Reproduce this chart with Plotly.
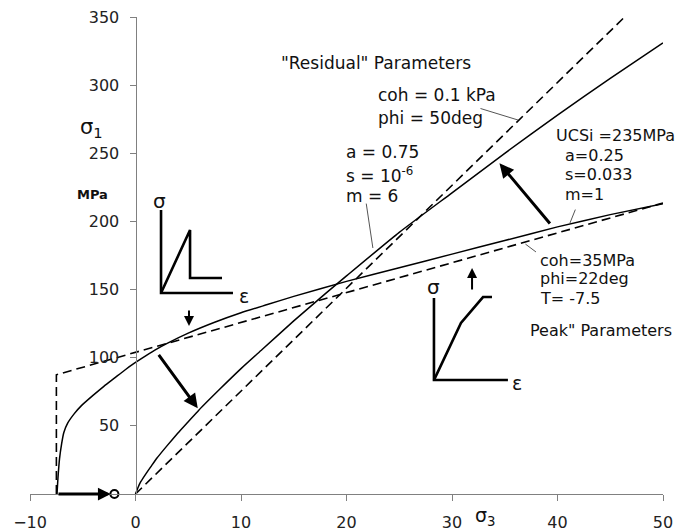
import plotly.graph_objects as go

# ---------------- data ----------------
# Peak Hoek-Brown envelope (solid)
peak_hb_s3 = [-7.44, -7.38, -7.32, -7.2, -7.0, -6.8, -6.43, -5.8, -5.17, -4.0, -3.0, -2.0, -1.0, 0,
              1, 2, 3, 5, 7.5, 10, 12.5, 15, 20, 25, 30, 35, 40, 45, 50]
peak_hb_s1 = [0, 8, 15, 26, 37, 45, 52, 59, 64.5, 72.5, 79, 85, 91, 96.5,
              101.5, 106.3, 110.5, 118, 126, 133, 139, 145, 156, 166, 176, 186, 196, 205, 213]

# Peak Mohr-Coulomb envelope with tension cut-off (dashed)
peak_mc_s3 = [-7.5, -7.5, 50]
peak_mc_s1 = [0, 87.5, 213.5]

# Residual Hoek-Brown envelope (solid)
res_hb_s3 = [0, 0.25, 0.5, 1, 1.5, 2, 3, 4, 5, 6, 8, 10, 12, 15, 18, 20, 25, 30, 35, 40, 45, 50]
res_hb_s1 = [0, 5, 9, 15, 20.5, 26, 35.5, 44.5, 53, 61.5, 77, 92, 106, 127, 147, 160, 192, 221, 250, 278, 305, 331]

# Residual Mohr-Coulomb envelope (dashed)
res_mc_s3 = [0, 46.36]
res_mc_s1 = [0, 350]

# Tension cut-off end marker
tension_end_s3 = [-2.0]
tension_end_s1 = [0]

# Inset sketches (stress-strain), drawn in chart units
inset1_axes_s3 = [2.42, 2.42, 9.24]
inset1_axes_s1 = [208.4, 147.5, 147.5]
inset1_curve_s3 = [2.42, 5.17, 5.17, 8.2]
inset1_curve_s1 = [147.5, 193.7, 158.5, 158.5]

inset2_axes_s3 = [28.29, 28.29, 35.3]
inset2_axes_s1 = [143.8, 83.6, 83.6]
inset2_curve_s3 = [28.29, 30.85, 32.94, 33.79]
inset2_curve_s1 = [83.6, 125.5, 144.5, 144.5]

x_ticks = [-10, 0, 10, 20, 30, 40, 50]
y_ticks = [50, 100, 150, 200, 250, 300, 350]

FONT = "DejaVu Sans"
INK = "#111111"

fig = go.Figure()

def line(xs, ys, dash=None, width=1.5, smooth=False):
    fig.add_trace(go.Scatter(x=xs, y=ys, mode="lines", showlegend=False, hoverinfo="skip",
                             line=dict(color="black", width=width, dash=dash,
                                       shape="spline" if smooth else "linear", smoothing=0.5)))

line(peak_hb_s3, peak_hb_s1, smooth=True)
line(peak_mc_s3, peak_mc_s1, dash="9px,5px", width=1.6)
line(res_hb_s3, res_hb_s1, smooth=True)
line(res_mc_s3, res_mc_s1, dash="9px,5px", width=1.6)

# insets
for xs, ys in [(inset1_axes_s3, inset1_axes_s1), (inset1_curve_s3, inset1_curve_s1),
               (inset2_axes_s3, inset2_axes_s1), (inset2_curve_s3, inset2_curve_s1)]:
    fig.add_trace(go.Scatter(x=xs, y=ys, mode="lines", showlegend=False, hoverinfo="skip",
                             line=dict(color="black", width=2.6)))

fig.add_trace(go.Scatter(x=tension_end_s3, y=tension_end_s1, mode="markers", showlegend=False,
                         hoverinfo="skip", cliponaxis=False,
                         marker=dict(symbol="circle-open", size=8, color="black", line=dict(width=2))))

ann = []

def text(x, y, s, size=17, anchor="left", bold=False):
    ann.append(dict(x=x, y=y, xref="x", yref="y", text=("<b>%s</b>" % s) if bold else s,
                    showarrow=False, xanchor=anchor, yanchor="middle",
                    font=dict(family=FONT, size=size, color=INK)))

def arrow(x0, y0, x1, y1, width=3, head=2, size=1.0, color="black"):
    ann.append(dict(x=x1, y=y1, ax=x0, ay=y0, xref="x", yref="y", axref="x", ayref="y",
                    text="", showarrow=True, arrowhead=head, arrowwidth=width, arrowsize=size,
                    arrowcolor=color, standoff=0, startstandoff=0))

text(13.6, 316.2, '"Residual" Parameters')
text(22.8, 292.8, "coh = 0.1 kPa")
text(22.8, 275.9, "phi = 50deg")
text(19.76, 251.0, "a = 0.75")
text(19.76, 234.1, "s = 10<sup>-6</sup>")
text(19.76, 218.5, "m = 6")
text(39.67, 263.4, "UCSi =235MPa", size=16)
text(40.52, 248.7, "a=0.25", size=16)
text(40.52, 234.1, "s=0.033", size=16)
text(40.52, 219.4, "m=1", size=16)
text(38.15, 171.7, "coh=35MPa", size=16)
text(38.15, 157.8, "phi=22deg", size=16)
text(38.15, 143.8, "T= -7.5", size=16)
text(37.2, 120.3, 'Peak" Parameters', size=16)
text(-5.45, 268.5, "σ<sub>1</sub>", size=21)
text(-5.73, 219.4, "MPa", size=13, bold=True)
text(2.23, 215.0, "σ", size=20, anchor="center")
text(10.3, 145.3, "ε", size=19, anchor="center")
text(28.2, 151.6, "σ", size=20, anchor="center")
text(36.2, 81.8, "ε", size=19, anchor="center")

# x-axis title next to the 30 tick
ann.append(dict(x=0.7, y=-0.0775, xref="paper", yref="paper", text="σ<sub>3</sub>",
                showarrow=False, xanchor="left", yanchor="bottom",
                font=dict(family=FONT, size=19, color=INK)))

# leader lines
arrow(32.56, 283.2, 36.26, 274.4, width=1, head=0, color="#555555")
arrow(21.85, 214.2, 22.5, 180.5, width=1, head=0, color="#555555")
arrow(41.75, 209.8, 41.18, 198.8, width=1, head=0, color="#555555")
arrow(36.82, 184.2, 37.96, 177.6, width=1, head=0, color="#555555")

# big arrows
arrow(2.1, 103.2, 5.9, 62.9, width=3, size=0.95)
arrow(39.4, 197.4, 34.5, 242.6, width=3, size=0.95)
arrow(5.07, 135.7, 5.07, 123.3, width=2, size=1.0)
arrow(31.9, 148.9, 31.9, 165.8, width=2, size=1.0)
arrow(-7.44, 0, -2.35, 0, width=3, size=0.85)

fig.update_layout(
    width=680, height=532,
    margin=dict(l=30, r=17, t=17, b=38, autoexpand=False),
    paper_bgcolor="white", plot_bgcolor="white",
    showlegend=False,
    annotations=ann,
    xaxis=dict(range=[-10, 50], tickvals=x_ticks, ticks="outside", ticklen=6, tickcolor="#808080",
               showline=True, linecolor="#808080", linewidth=1, showgrid=False, zeroline=False,
               ticklabelstandoff=8, automargin=False,
               tickfont=dict(family=FONT, size=16, color="#222222"), fixedrange=True),
    yaxis=dict(range=[0, 350], tickvals=y_ticks, ticks="outside", ticklen=6, tickcolor="#808080",
               showline=True, linecolor="#808080", linewidth=1, showgrid=False, zeroline=False,
               anchor="free", position=1/6, ticklabelstandoff=7, automargin=False,
               tickfont=dict(family=FONT, size=16, color="#222222"), fixedrange=True),
)

fig.write_html("out.html")
